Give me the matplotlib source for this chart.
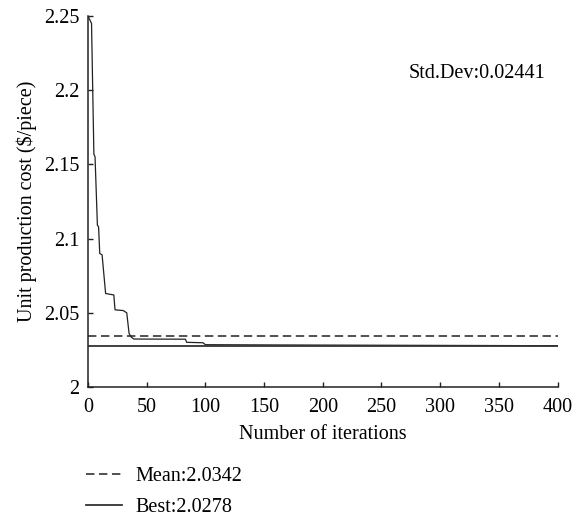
import matplotlib
matplotlib.use("Agg")
import matplotlib.pyplot as plt

plt.rcParams['font.family'] = ['Liberation Serif', 'DejaVu Serif']

# Convergence curve (iteration, unit cost)
iters = [0, 3, 5, 6, 8, 9, 10, 12, 15, 22, 23, 30, 33, 35, 37, 39, 83, 84, 98, 100, 170, 400]
cost = [2.25, 2.245, 2.157, 2.155, 2.109, 2.108, 2.090, 2.089, 2.063, 2.062, 2.052,
        2.0515, 2.050, 2.036, 2.0335, 2.0323, 2.0322, 2.0301, 2.0298, 2.0285, 2.0283, 2.0278]
mean_val = 2.0342
best_val = 2.0278
std_val = 0.02441
x_range = [0, 400]
xticks = [0, 50, 100, 150, 200, 250, 300, 350, 400]
yticks = [2.0, 2.05, 2.1, 2.15, 2.2, 2.25]
ytick_labels = ["2", "2.05", "2.1", "2.15", "2.2", "2.25"]

fig = plt.figure(figsize=(5.84, 5.17), dpi=100)
ax = fig.add_axes([0.1507, 0.2515, 0.804, 0.7175])

ax.plot(iters, cost, color='#222222', lw=0.9)
ax.plot(x_range, [mean_val, mean_val], color='#222222', lw=1.1, ls=(0, (5.5, 3)),
        label='Mean:%.4f' % mean_val)
ax.plot(x_range, [best_val, best_val], color='#333333', lw=1.3,
        label='Best:%.4f' % best_val)

ax.set_xlim(0, 400)
ax.set_ylim(2.0, 2.25)
ax.set_xticks(xticks)
ax.set_yticks(yticks)
ax.set_yticklabels(ytick_labels)
ax.spines['top'].set_visible(False)
ax.spines['right'].set_visible(False)
for s in ['left', 'bottom']:
    ax.spines[s].set_linewidth(1.1)
    ax.spines[s].set_color('#222222')
ax.tick_params(direction='in', length=3.5, width=1.0, labelsize=14.5, color='#222222')
ax.tick_params(axis='x', pad=8)
ax.tick_params(axis='y', pad=6)

ax.set_xlabel('Number of iterations', fontsize=14.5, labelpad=6)
ax.set_ylabel('Unit production cost (\\$/piece)', fontsize=14.5, labelpad=5)

ax.text(331, 2.2116, 'Std.Dev:%.5f' % std_val, ha='center', va='center', fontsize=14.5)

fig.legend(loc='upper left', bbox_to_anchor=(0.148, 0.097), frameon=False, fontsize=14.5,
           handlelength=1.75, handletextpad=0.7, labelspacing=0.6, borderaxespad=0,
           borderpad=0)

fig.savefig('out.png', dpi=100)
